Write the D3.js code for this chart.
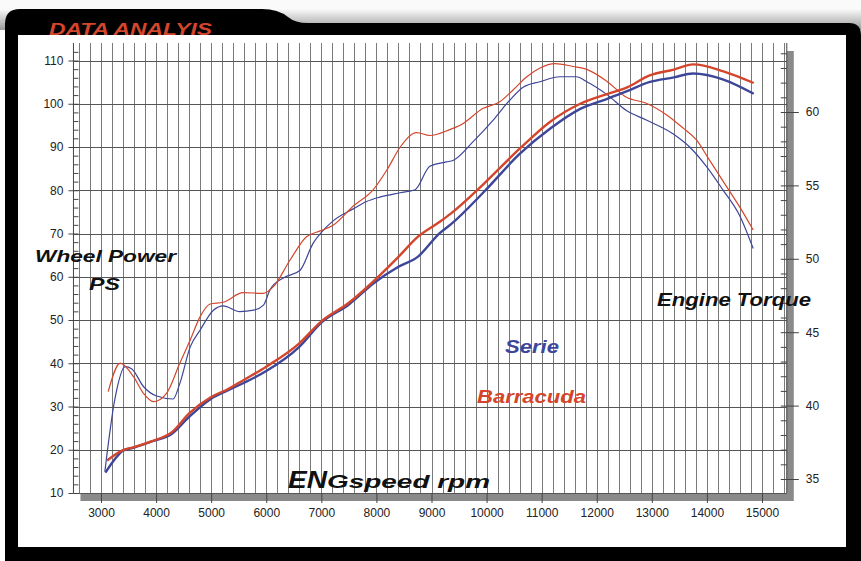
<!DOCTYPE html>
<html>
  <head>
    <meta charset="utf-8" />
    <script src="https://d3js.org/d3.v7.min.js"></script>
    <title>Data Analyis</title>
    <style>
      body { margin: 0; background: #fff; }
      svg { display: block; }
    </style>
  </head>

  <body>
    <div id="chart"></div>
  </body>

  <script>
    // wheel power (PS) - thick lines, left axis
    var serieRpm = [3080, 3250, 3400, 3600, 3900, 4300, 4600, 5000, 5300, 5600, 6000, 6600, 7000, 7500, 7950, 8400, 8750, 9150, 9350, 9950, 10600, 11150, 11700, 12200, 12550, 12950, 13400, 13750, 14300, 14850];
    var seriePower = [14.7, 17.8, 19.8, 20.5, 21.8, 23.8, 27.6, 31.8, 33.7, 35.5, 38.2, 43.8, 49.4, 53.6, 58.5, 62.3, 64.6, 70.1, 72.1, 79.6, 88.4, 94.2, 98.8, 101.2, 102.9, 105.0, 106.1, 107.0, 105.6, 102.3];

    var barracudaRpm = [3110, 3400, 3600, 3900, 4300, 4600, 5000, 5300, 5600, 6000, 6600, 7000, 7500, 7950, 8400, 8750, 9150, 9350, 9950, 10600, 11150, 11700, 12200, 12550, 12950, 13400, 13750, 14300, 14850];
    var barracudaPower = [17.5, 19.9, 20.6, 21.9, 24.2, 28.4, 32.2, 34.0, 36.2, 39.2, 44.6, 49.7, 54.0, 59.0, 64.6, 69.2, 72.7, 74.6, 81.5, 89.6, 95.8, 100.0, 102.3, 103.8, 106.5, 107.9, 109.1, 107.5, 104.8];

    // engine torque - thin lines, right axis
    var serieTorqueRpm = [3070, 3250, 3440, 3560, 3770, 4010, 4310, 4430, 4620, 4800, 5040, 5220, 5520, 5770, 5950, 6070, 6310, 6610, 6850, 7040, 7220, 7580, 7820, 8060, 8430, 8700, 8970, 9270, 9390, 9760, 10120, 10420, 10670, 10970, 11330, 11630, 11820, 12180, 12540, 12900, 13390, 13690, 13990, 14290, 14600, 14840];
    var serieTorque = [35.5, 40.4, 42.65, 42.5, 41.3, 40.65, 40.45, 41.5, 44.0, 45.15, 46.5, 46.8, 46.4, 46.5, 46.85, 47.9, 48.7, 49.2, 51.05, 51.96, 52.6, 53.4, 53.9, 54.2, 54.5, 54.7, 56.3, 56.6, 56.7, 58.0, 59.45, 60.8, 61.7, 62.06, 62.4, 62.4, 62.06, 61.2, 60.1, 59.45, 58.5, 57.6, 56.3, 54.7, 52.9, 50.7];

    var barracudaTorqueRpm = [3130, 3350, 3590, 3770, 3950, 4190, 4430, 4620, 4800, 4980, 5220, 5580, 5950, 6130, 6430, 6730, 6980, 7220, 7580, 7940, 8190, 8430, 8730, 8970, 9330, 9520, 9940, 10240, 10480, 10730, 10970, 11240, 11570, 11820, 12180, 12540, 12900, 13270, 13570, 13810, 14050, 14360, 14600, 14840];
    var barracudaTorque = [40.95, 42.9, 41.97, 40.84, 40.27, 40.84, 42.88, 44.47, 46.06, 46.92, 47.04, 47.69, 47.65, 48.1, 49.9, 51.5, 51.9, 52.3, 53.6, 54.7, 56.05, 57.6, 58.6, 58.4, 58.8, 59.1, 60.25, 60.7, 61.5, 62.4, 63.0, 63.3, 63.1, 62.9, 62.1, 61.0, 60.6, 59.8, 58.9, 58.1, 56.7, 54.9, 53.5, 51.96];

    var rpmTicks = [3000, 4000, 5000, 6000, 7000, 8000, 9000, 10000, 11000, 12000, 13000, 14000, 15000];
    var powerTicks = [10, 20, 30, 40, 50, 60, 70, 80, 90, 100, 110];
    var torqueTicks = [35, 40, 45, 50, 55, 60];

    var red = '#d4462b';
    var blue = '#3e4699';
    var font = "'Liberation Sans', Arial, sans-serif";

    var width = 861,
      height = 561;

    var svg = d3
      .select('#chart')
      .append('svg')
      .attr('width', width)
      .attr('height', height);

    // top shade
    var defs = svg.append('defs');
    var grad = defs
      .append('linearGradient')
      .attr('id', 'shade')
      .attr('x1', 0)
      .attr('y1', 0)
      .attr('x2', 0)
      .attr('y2', 1);
    grad.append('stop').attr('offset', '0.3').attr('stop-color', '#fafafa');
    grad.append('stop').attr('offset', '1').attr('stop-color', '#9a9a9a');

    svg
      .append('rect')
      .attr('width', width)
      .attr('height', 30)
      .attr('fill', 'url(#shade)');

    // black frame with the tab
    svg
      .append('path')
      .attr(
        'd',
        'M5,561 V24 Q5,9 20,9 H262 Q278,9 288,17 Q295,23 308,23 H849 Q861,23 861,35 V561 Z'
      )
      .attr('fill', '#000');

    svg
      .append('text')
      .attr('x', 49)
      .attr('y', 35)
      .attr('textLength', 163)
      .attr('lengthAdjust', 'spacingAndGlyphs')
      .style('font-family', font)
      .style('font-weight', 'bold')
      .style('font-style', 'italic')
      .style('font-size', '17px')
      .style('fill', red)
      .text('DATA ANALYIS');

    // white panel
    svg
      .append('rect')
      .attr('x', 18)
      .attr('y', 35)
      .attr('width', 828)
      .attr('height', 512)
      .attr('fill', '#fff');

    // scales
    var x = d3.scaleLinear().domain([3000, 15000]).range([101, 762]);
    var yPower = d3.scaleLinear().domain([10, 110]).range([493, 60.5]);
    var yTorque = d3.scaleLinear().domain([35, 60]).range([479, 112]);

    var plotLeft = x(2500),
      plotRight = x(15450),
      plotTop = 43,
      plotBottom = yPower(10);

    // drop shadow + plot background
    svg
      .append('rect')
      .attr('x', plotLeft + 7)
      .attr('y', plotTop + 8)
      .attr('width', plotRight - plotLeft)
      .attr('height', plotBottom - plotTop)
      .attr('fill', '#8a8a8a');
    svg
      .append('rect')
      .attr('x', plotLeft)
      .attr('y', plotTop)
      .attr('width', plotRight - plotLeft)
      .attr('height', plotBottom - plotTop)
      .attr('fill', '#fff');

    // grid
    svg
      .append('g')
      .selectAll('line')
      .data(d3.range(2600, 15401, 200))
      .join('line')
      .attr('x1', (d) => Math.round(x(d)) + 0.5)
      .attr('x2', (d) => Math.round(x(d)) + 0.5)
      .attr('y1', plotTop)
      .attr('y2', plotBottom)
      .attr('stroke', '#7a7a7a')
      .attr('stroke-width', 1);

    svg
      .append('g')
      .selectAll('line')
      .data(powerTicks)
      .join('line')
      .attr('x1', plotLeft)
      .attr('x2', plotRight)
      .attr('y1', (d) => Math.round(yPower(d)) + 0.5)
      .attr('y2', (d) => Math.round(yPower(d)) + 0.5)
      .attr('stroke', '#555')
      .attr('stroke-width', 1);

    // axes
    function styleAxis(g) {
      g.select('.domain').remove();
      g.selectAll('line').attr('stroke', '#444');
      g.selectAll('text')
        .style('font-family', font)
        .style('font-size', '12px')
        .style('fill', '#222');
    }

    svg
      .append('g')
      .attr('transform', 'translate(0,' + plotBottom + ')')
      .call(
        d3
          .axisBottom(x)
          .tickValues(rpmTicks)
          .tickFormat(d3.format('d'))
          .tickSize(10)
          .tickPadding(5)
      )
      .call(styleAxis);

    svg
      .append('g')
      .attr('transform', 'translate(' + plotLeft + ',0)')
      .call(d3.axisLeft(yPower).tickValues(powerTicks).tickSize(5).tickPadding(5))
      .call(styleAxis);

    svg
      .append('g')
      .attr('transform', 'translate(' + plotLeft + ',0)')
      .call(d3.axisRight(yPower).tickValues(d3.range(10, 114, 2)).tickSize(5).tickFormat(''))
      .call(styleAxis);

    svg
      .append('g')
      .attr('transform', 'translate(' + plotRight + ',0)')
      .call(d3.axisRight(yTorque).tickValues(torqueTicks).tickSize(12).tickPadding(7))
      .call(styleAxis);

    svg
      .append('g')
      .attr('transform', 'translate(' + plotRight + ',0)')
      .call(d3.axisLeft(yTorque).tickValues(d3.range(35, 65, 1)).tickSize(6).tickFormat(''))
      .call(styleAxis);

    svg
      .append('line')
      .attr('x1', plotLeft)
      .attr('x2', plotLeft)
      .attr('y1', plotTop)
      .attr('y2', plotBottom)
      .attr('stroke', '#444');
    svg
      .append('line')
      .attr('x1', plotRight)
      .attr('x2', plotRight)
      .attr('y1', plotTop)
      .attr('y2', plotBottom)
      .attr('stroke', '#444');

    // curves
    var powerLine = d3
      .line()
      .x((d) => x(d[0]))
      .y((d) => yPower(d[1]))
      .curve(d3.curveMonotoneX);

    var torqueLine = d3
      .line()
      .x((d) => x(d[0]))
      .y((d) => yTorque(d[1]))
      .curve(d3.curveMonotoneX);

    var series = [
      { data: d3.zip(serieTorqueRpm, serieTorque), line: torqueLine, color: blue, w: 1.2 },
      { data: d3.zip(barracudaTorqueRpm, barracudaTorque), line: torqueLine, color: red, w: 1.2 },
      { data: d3.zip(serieRpm, seriePower), line: powerLine, color: blue, w: 2.4 },
      { data: d3.zip(barracudaRpm, barracudaPower), line: powerLine, color: red, w: 2.4 },
    ];

    svg
      .append('g')
      .selectAll('path')
      .data(series)
      .join('path')
      .attr('d', (d) => d.line(d.data))
      .attr('fill', 'none')
      .attr('stroke', (d) => d.color)
      .attr('stroke-width', (d) => d.w)
      .attr('stroke-linejoin', 'round');

    // labels
    function label(txt, px, py, size, len, color) {
      svg
        .append('text')
        .attr('x', px)
        .attr('y', py)
        .attr('textLength', len)
        .attr('lengthAdjust', 'spacingAndGlyphs')
        .style('font-family', font)
        .style('font-weight', 'bold')
        .style('font-style', 'italic')
        .style('font-size', size + 'px')
        .style('fill', color)
        .text(txt);
    }

    label('Wheel Power', 35, 262, 17, 141, '#111');
    label('PS', 89, 290, 17, 31, '#111');
    label('Engine Torque', 657, 306, 18, 154, '#111');
    label('EN', 288, 488, 23, 39, '#111');
    label('Gspeed rpm', 327, 488, 19, 163, '#111');
    label('Serie', 505, 353, 19, 54, blue);
    label('Barracuda', 477, 403, 19, 109, red);
  </script>
</html>
